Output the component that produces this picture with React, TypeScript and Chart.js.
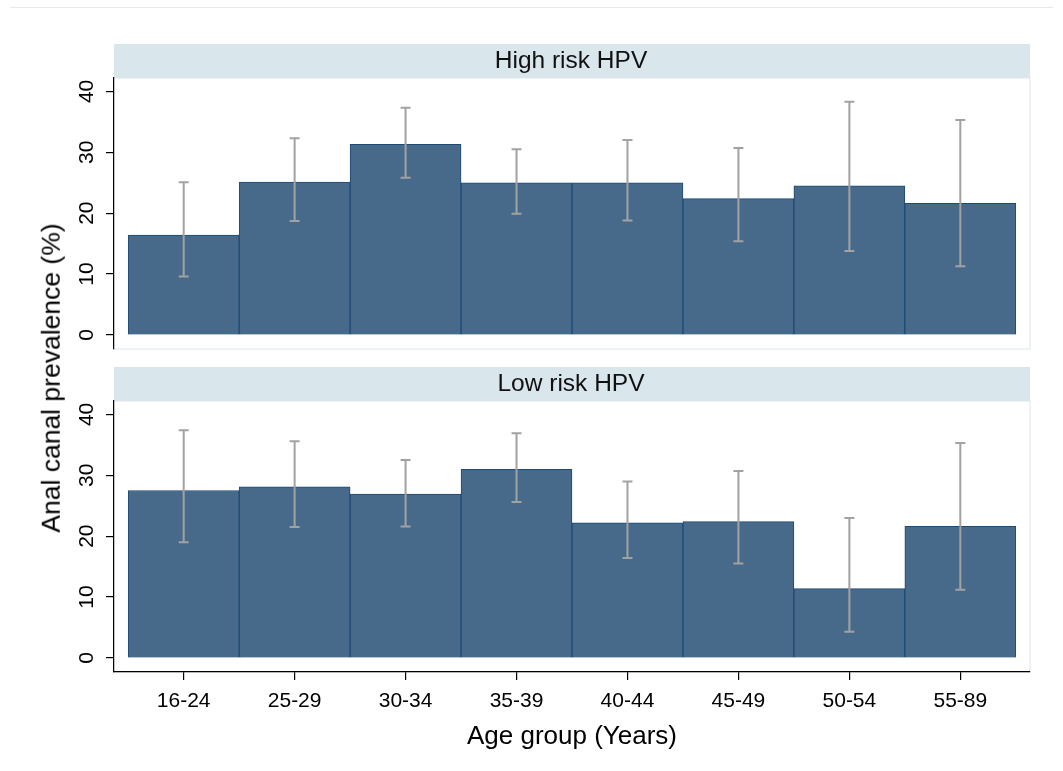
import React, { useEffect, useRef } from "react";
import { Chart, registerables } from "chart.js";

Chart.register(...registerables);

const categories = ["16-24", "25-29", "30-34", "35-39", "40-44", "45-49", "50-54", "55-89"];
const panelTitles = ["High risk HPV", "Low risk HPV"];
const highRisk = [16.4, 25.1, 31.3, 25.0, 25.0, 22.4, 24.5, 21.6];
const highLower = [9.6, 18.7, 25.8, 19.9, 18.8, 15.4, 13.8, 11.3];
const highUpper = [25.1, 32.3, 37.3, 30.5, 32.0, 30.7, 38.3, 35.3];
const lowRisk = [27.5, 28.1, 26.9, 31.0, 22.2, 22.4, 11.4, 21.6];
const lowLower = [19.0, 21.5, 21.6, 25.6, 16.4, 15.5, 4.3, 11.2];
const lowUpper = [37.4, 35.6, 32.5, 36.9, 29.0, 30.7, 23.0, 35.3];
const yTicks = [0, 10, 20, 30, 40];
const yTitle = "Anal canal prevalence (%)";
const xTitle = "Age group (Years)";

const X_MIN = -0.628;
const X_MAX = 7.628;
const Y_MIN = -2.3;
const Y_MAX = 42.2;

const FONT = "'Liberation Sans', Arial, Helvetica, sans-serif";
const BAR_FILL = "#476a8b";
const BAR_BORDER = "#1d4a73";
const ERR_COLOR = "#a2a2a2";
const STRIP_COLOR = "#d9e6ec";
const PANEL_BORDER = "#e8eef1";

function makePanelPlugin(title: string, lower: number[], upper: number[]) {
  return {
    id: "panel_" + title.replace(/\s/g, "_"),
    beforeDraw(chart: any) {
      const { ctx, chartArea } = chart;
      const { left, right, top, bottom } = chartArea;
      ctx.save();
      ctx.strokeStyle = PANEL_BORDER;
      ctx.lineWidth = 1.5;
      ctx.strokeRect(left, top, right - left, bottom - top);
      ctx.fillStyle = STRIP_COLOR;
      ctx.fillRect(left, top - 34, right - left, 34);
      ctx.fillStyle = "#111";
      ctx.font = `24.5px ${FONT}`;
      ctx.textAlign = "center";
      ctx.textBaseline = "alphabetic";
      ctx.fillText(title, (left + right) / 2 - 1, top - 10);
      ctx.restore();
    },
    afterDatasetsDraw(chart: any) {
      const { ctx } = chart;
      const xs = chart.scales.x;
      const ys = chart.scales.y;
      ctx.save();
      ctx.strokeStyle = ERR_COLOR;
      ctx.lineWidth = 2;
      for (let i = 0; i < lower.length; i++) {
        const x = xs.getPixelForValue(i);
        const yl = ys.getPixelForValue(lower[i]);
        const yu = ys.getPixelForValue(upper[i]);
        ctx.beginPath();
        ctx.moveTo(x, yl);
        ctx.lineTo(x, yu);
        ctx.moveTo(x - 5, yl);
        ctx.lineTo(x + 5, yl);
        ctx.moveTo(x - 5, yu);
        ctx.lineTo(x + 5, yu);
        ctx.stroke();
      }
      ctx.restore();
    },
  };
}

function yScale() {
  return {
    type: "linear" as const,
    min: Y_MIN,
    max: Y_MAX,
    afterBuildTicks: (s: any) => {
      s.ticks = yTicks.map((v) => ({ value: v }));
    },
    afterFit: (s: any) => {
      s.width = 114;
      s.paddingTop = 0;
      s.paddingBottom = 0;
    },
    grid: { drawOnChartArea: false, drawTicks: true, tickLength: 8, color: "#000", lineWidth: 1.2 },
    border: { display: true, color: "#000", width: 1.2 },
    ticks: {
      minRotation: 90,
      maxRotation: 90,
      crossAlign: "center" as const,
      padding: 7,
      color: "#000",
      font: { family: FONT, size: 21 },
      callback: (v: any) => String(v),
    },
  };
}

function buildChart(
  canvas: HTMLCanvasElement,
  title: string,
  values: number[],
  lower: number[],
  upper: number[],
  bottomPanel: boolean
) {
  const xScale: any = {
    type: "linear",
    min: X_MIN,
    max: X_MAX,
    offset: false,
    afterBuildTicks: (s: any) => {
      s.ticks = categories.map((_, i) => ({ value: i }));
    },
  };
  if (bottomPanel) {
    Object.assign(xScale, {
      display: true,
      afterFit: (s: any) => {
        s.height = 99;
        s.paddingLeft = 0;
        s.paddingRight = 0;
      },
      grid: {
        offset: false,
        drawOnChartArea: false,
        drawTicks: true,
        tickLength: 8,
        color: "#000",
        lineWidth: 1.2,
      },
      border: { display: true, color: "#000", width: 1.2 },
      ticks: {
        autoSkip: false,
        maxRotation: 0,
        minRotation: 0,
        padding: 9,
        color: "#000",
        font: { family: FONT, size: 21 },
        callback: (v: any) => categories[v] ?? "",
      },
      title: {
        display: true,
        text: xTitle,
        color: "#000",
        font: { family: FONT, size: 26 },
        padding: { top: 0, bottom: 19 },
      },
    });
  } else {
    xScale.display = false;
    xScale.grid = { offset: false };
  }

  return new Chart(canvas, {
    type: "bar",
    data: {
      datasets: [
        {
          label: title,
          data: values.map((v, i) => ({ x: i, y: v })),
          backgroundColor: BAR_FILL,
          borderColor: BAR_BORDER,
          borderWidth: 1,
          barPercentage: 1,
          categoryPercentage: 1,
        },
      ],
    },
    options: {
      responsive: false,
      animation: false,
      devicePixelRatio: 1,
      layout: {
        padding: bottomPanel
          ? { top: 41, right: 33, bottom: 0, left: 0 }
          : { top: 78, right: 33, bottom: 11, left: 0 },
      },
      plugins: {
        legend: { display: false },
        tooltip: { enabled: false },
        title: { display: false },
      },
      scales: {
        x: xScale,
        y: yScale() as any,
      },
    },
    plugins: [makePanelPlugin(title, lower, upper)],
  });
}

export default function App() {
  const topRef = useRef<HTMLCanvasElement>(null);
  const botRef = useRef<HTMLCanvasElement>(null);

  useEffect(() => {
    const c1 = buildChart(topRef.current!, panelTitles[0], highRisk, highLower, highUpper, false);
    const c2 = buildChart(botRef.current!, panelTitles[1], lowRisk, lowLower, lowUpper, true);
    return () => {
      c1.destroy();
      c2.destroy();
    };
  }, []);

  return (
    <div
      style={{
        position: "absolute",
        left: 0,
        top: 0,
        width: 1063,
        height: 771,
        background: "#fff",
        overflow: "hidden",
      }}
    >
      <div
        style={{
          position: "absolute",
          left: 10,
          top: 7,
          width: 1043,
          height: 1,
          background: "#e9e9e9",
        }}
      />
      <canvas
        ref={topRef}
        width={1063}
        height={360}
        style={{ position: "absolute", left: 0, top: 0, display: "block" }}
      />
      <canvas
        ref={botRef}
        width={1063}
        height={411}
        style={{ position: "absolute", left: 0, top: 360, display: "block" }}
      />
      <div
        style={{
          position: "absolute",
          left: 51,
          top: 378,
          transform: "translate(-50%, -50%) rotate(-90deg)",
          fontFamily: FONT,
          fontSize: 26.5,
          color: "#000",
          whiteSpace: "nowrap",
          lineHeight: 1,
        }}
      >
        {yTitle}
      </div>
    </div>
  );
}
